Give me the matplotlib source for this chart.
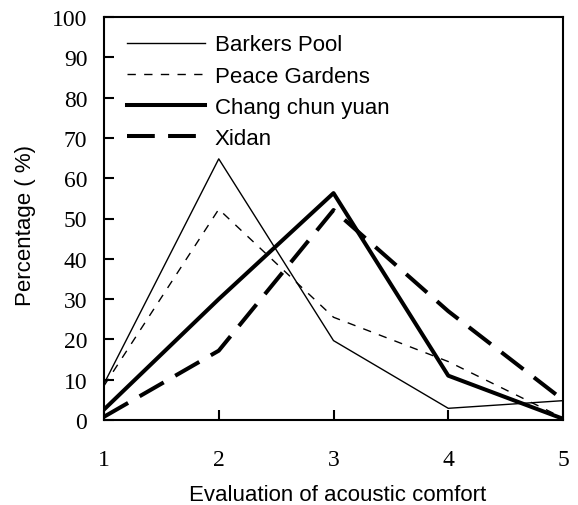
import matplotlib
matplotlib.use("Agg")
import matplotlib.pyplot as plt

x = [1, 2, 3, 4, 5]
barkers_pool = [9, 64.8, 19.7, 2.9, 4.8]
peace_gardens = [8.5, 52.3, 25.5, 14.5, 0.5]
chang_chun_yuan = [2.6, 30, 56.3, 11, 0.3]
xidan = [0.8, 17.2, 52.1, 27, 5]

fig = plt.figure(figsize=(5.78, 5.06), dpi=100)
ax = fig.add_axes([104/578, 1-421/506, 459/578, 403/506])

ax.plot(x, barkers_pool, color='black', lw=1.0, label='Barkers Pool')
ax.plot(x, peace_gardens, color='black', lw=1.0, dashes=(6, 6), label='Peace Gardens')
ax.plot(x, chang_chun_yuan, color='black', lw=2.9, label='Chang chun yuan')
ax.plot(x, xidan, color='black', lw=2.9, dashes=(6.9, 3.3), label='Xidan')

ax.set_xlim(1, 5)
ax.set_ylim(0, 100)
ax.set_xticks(x)
ax.set_yticks(range(0, 101, 10))
for s in ax.spines.values():
    s.set_linewidth(1.5)
ax.tick_params(direction='in', length=7, width=1.5, top=False, right=False,
               labelsize=17)
ax.tick_params(axis='x', pad=21)
ax.tick_params(axis='y', pad=12)
for lab in ax.get_xticklabels() + ax.get_yticklabels():
    lab.set_family('Liberation Serif')

ax.set_xlabel('Evaluation of acoustic comfort', fontsize=16, family='Liberation Sans')
ax.xaxis.set_label_coords(0.51, -0.184)
ax.xaxis.label.set_va('center')
ax.set_ylabel('Percentage ( %)', fontsize=16, family='Liberation Sans')
ax.yaxis.set_label_coords(-0.172, 0.484)
ax.yaxis.label.set_va('center')

leg = ax.legend(loc='upper left', bbox_to_anchor=(0.050, 0.957), frameon=False,
                handlelength=3.5, handletextpad=0.45, labelspacing=0.46,
                borderpad=0, borderaxespad=0,
                prop={'family': 'Liberation Sans', 'size': 16})

fig.savefig('out.png', dpi=100)
